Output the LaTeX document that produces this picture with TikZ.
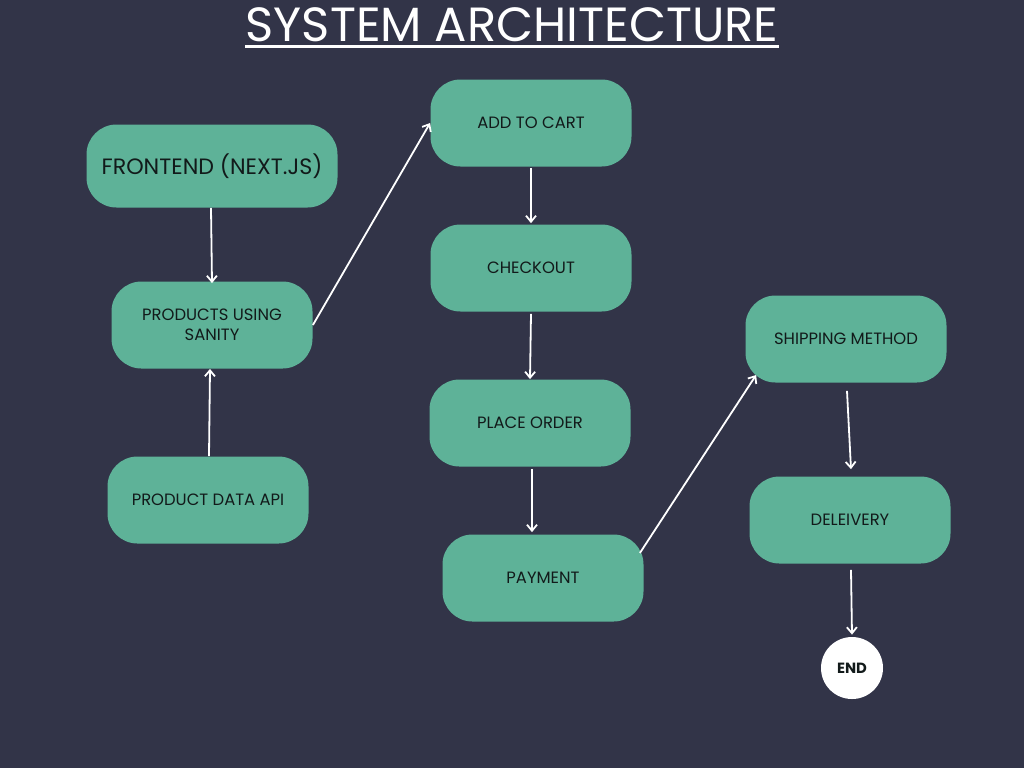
\documentclass[tikz,border=0pt]{standalone}
\usepackage{fontspec}
\setmainfont{Poppins}
\usetikzlibrary{arrows.meta,positioning}
\definecolor{navybg}{RGB}{50,52,72}
\definecolor{mintgreen}{RGB}{94,178,152}
\definecolor{inkdark}{RGB}{18,26,26}
\tikzset{
  box/.style={
    rounded corners=15pt,
    fill=mintgreen,
    align=center,
    text=inkdark,
    inner sep=4pt,
    minimum width=100.5pt,
    minimum height=43.5pt,
    font=\fontsize{8.2}{10}\selectfont
  },
  bigbox/.style={box, minimum width=125.5pt, minimum height=41.5pt, font=\fontsize{11.1}{13}\selectfont},
  endnode/.style={circle, fill=white, text=inkdark, minimum size=31pt, inner sep=0pt,
    font=\fontsize{7.4}{9}\selectfont\bfseries},
  arrow/.style={-{Straight Barb[length=3pt,width=5pt]}, line width=0.9pt, draw=white}
}
\begin{document}
\begin{tikzpicture}[x=0.5pt,y=-0.5pt]
        \useasboundingbox[fill=navybg] (0,0) rectangle (1024,768);
        % title
        \node[anchor=base, inner sep=0pt, text=white, font=\fontsize{24}{28}\selectfont] (title) at (512,41) {SYSTEM ARCHITECTURE};
        \draw[white, line width=1.6pt] ([yshift=-2.6pt]title.base west) -- ([yshift=-2.6pt]title.base east);
        % left column
        \node[bigbox] (front) at (212,166) {FRONTEND (NEXT.JS)};
        \node[box] (sanity) at (212,325) {PRODUCTS USING\\SANITY};
        \node[box] (api) at (208,500) {PRODUCT DATA API};
        % middle column
        \node[box] (cart) at (531,123) {ADD TO CART};
        \node[box] (checkout) at (531,268) {CHECKOUT};
        \node[box] (order) at (530,423) {PLACE ORDER};
        \node[box] (payment) at (543,578) {PAYMENT};
        % right column
        \node[box] (ship) at (846,339) {SHIPPING METHOD};
        \node[box] (deliv) at (850,520) {DELEIVERY};
        \node[endnode] (end) at (852,668) {END};
        % connectors
        \draw[arrow] ([xshift=-0.5pt]front.south) -- ([yshift=-1pt]sanity.north);
        \draw[arrow] ([xshift=0.5pt]api.north) -- ([xshift=-1pt]sanity.south);
        \draw[arrow] (sanity.east) -- (cart.west);
        \draw[arrow] ([yshift=-0.5pt]cart.south) -- ([yshift=0.5pt]checkout.north);
        \draw[arrow] ([yshift=-1pt]checkout.south) -- (order.north);
        \draw[arrow] ([xshift=1pt,yshift=-1pt]order.south) -- ([xshift=-5.5pt,yshift=1pt]payment.north);
        \draw[arrow] ([xshift=-2pt,yshift=12.5pt]payment.east) -- ([xshift=5.5pt,yshift=-18pt]ship.west);
        \draw[arrow] ([xshift=0.5pt,yshift=-4pt]ship.south) -- ([xshift=0.5pt,yshift=3.5pt]deliv.north);
        \draw[arrow] ([xshift=0.5pt,yshift=-3pt]deliv.south) -- ([yshift=1pt]end.north);
      \end{tikzpicture}
\end{document}
